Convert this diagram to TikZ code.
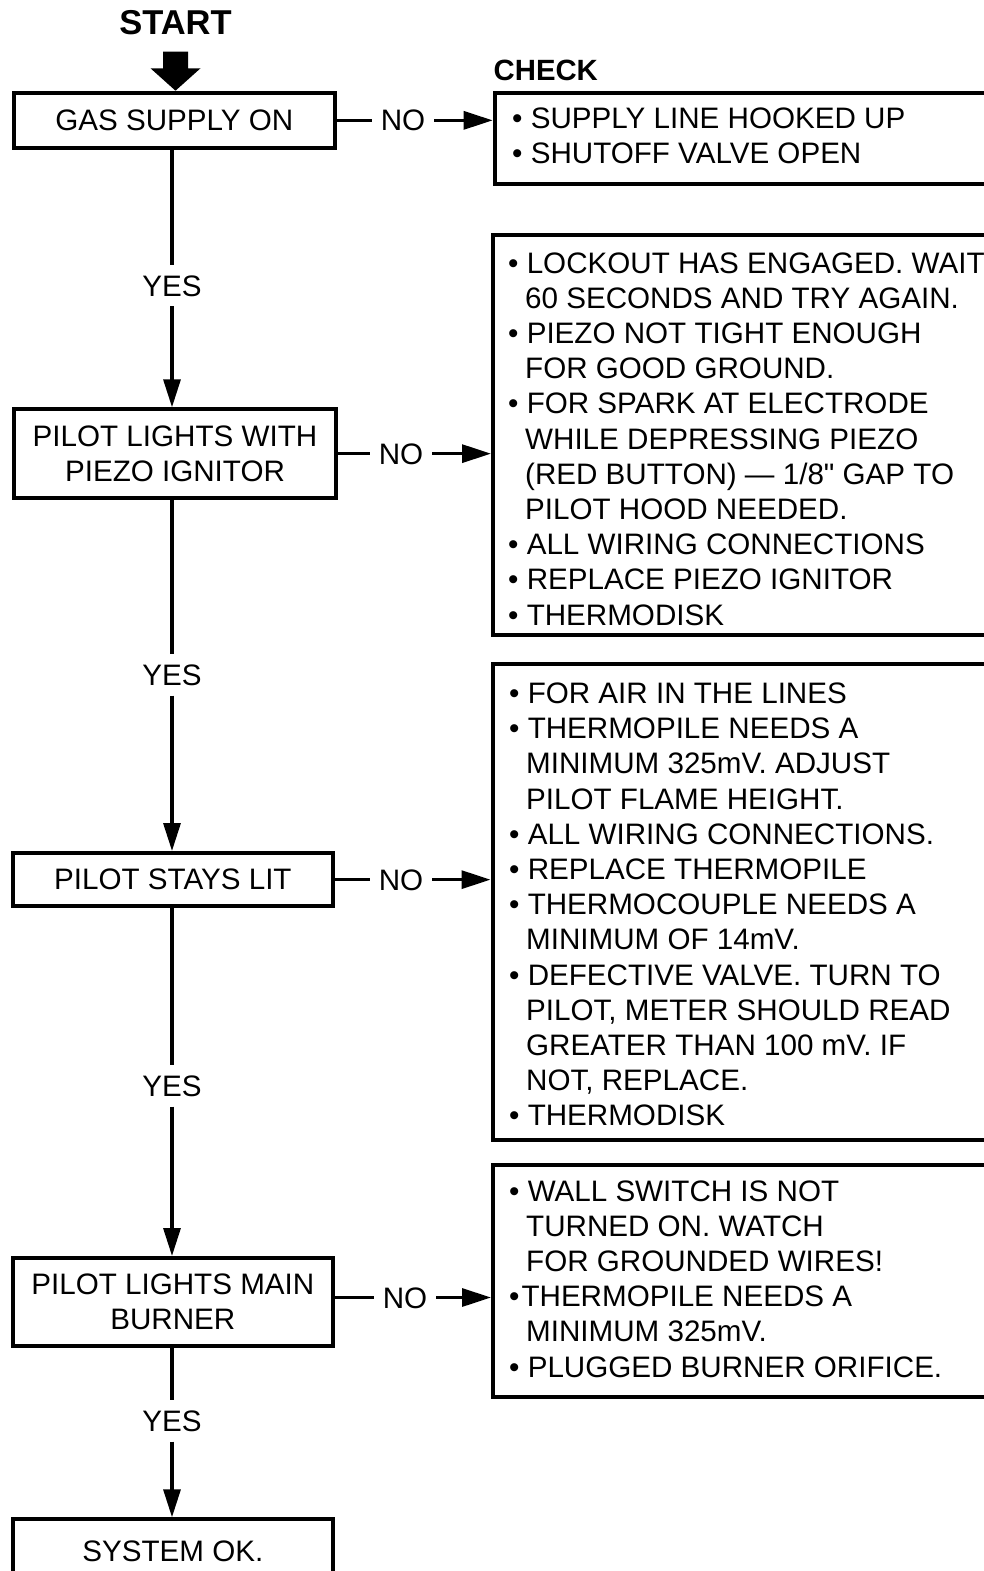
\documentclass[tikz,border=0pt]{standalone}
\usepackage{fontspec}
\setmainfont{Liberation Sans}
\newfontfamily\plainfont{Liberation Sans}
\usetikzlibrary{arrows.meta,calc}
\newcommand\bodyfont{\fontsize{29.6}{35.2}\selectfont}
\newcommand\ci{\hspace*{17pt}}
\newcommand\qmark{{\plainfont\char34}}
\begin{document}
\begin{tikzpicture}[x=1pt,y=-1pt,
  box/.style={draw, line width=4pt, rectangle, inner sep=0pt, align=center, font=\bodyfont},
  chkbox/.style={draw, line width=4pt, rectangle, inner sep=0pt},
  chktext/.style={inner sep=0pt, anchor=base west, font=\bodyfont},
  lbl/.style={inner xsep=9pt, inner ysep=0pt, text height=21pt, text depth=0pt, font=\bodyfont},
  yes/.style={inner xsep=0pt, inner ysep=10pt, text height=21pt, text depth=0pt, font=\bodyfont},
  conn/.style={line width=3.2pt},
  arr/.style={line width=3.2pt, -{Triangle[length=28pt, width=17pt]}},
  harr/.style={line width=3.2pt, -{Triangle[length=29pt, width=18pt]}}
]
\useasboundingbox (0,0) rectangle (984,1571);
\begin{scope}
\clip (0,0) rectangle (984,1571);

% title
\node[inner sep=0pt, anchor=base, font=\bfseries\fontsize{34.5}{40}\selectfont] (start) at (175.5,35) {START};
\node[inner sep=0pt, anchor=base west, font=\bfseries\fontsize{29.3}{35}\selectfont] (check) at (493.5,81) {CHECK};

% left boxes
\node[box, minimum width=321.3pt, minimum height=55.3pt] (b1) at (174.35,120.35) {GAS SUPPLY ON};
\node[box, minimum width=322.6pt, minimum height=88.7pt] (b2) at (175,453.65) {PILOT LIGHTS WITH\\PIEZO IGNITOR};
\node[box, minimum width=320.3pt, minimum height=53.3pt] (b3) at (172.85,879.65) {PILOT STAYS LIT};
\node[box, minimum width=320.3pt, minimum height=87.7pt] (b4) at (172.85,1301.85) {PILOT LIGHTS MAIN\\BURNER};
\node[box, minimum width=320.3pt, anchor=north, text height=21pt, text depth=40pt, inner ysep=21.4pt] (b5) at (172.85,1517.3) {SYSTEM OK.};

% start arrow
\coordinate (st) at (175.5,90.7);
\fill (st) -- (150.5,68.3) -- (163,68.3) -- (163,51.7) -- (188,51.7) -- (188,68.3) -- (200.5,68.3) -- cycle;

% check boxes
\node[chkbox, minimum width=515.3pt, minimum height=91pt] (c1) at (752.35,138.5) {};
\node[chkbox, minimum width=517pt, minimum height=400pt] (c2) at (751.5,434.7) {};
\node[chkbox, minimum width=517.5pt, minimum height=475.7pt] (c3) at (751.25,901.65) {};
\node[chkbox, minimum width=517pt, minimum height=232pt] (c4) at (751.5,1281) {};

\node[chktext] (t1) at (512,128.5) {\parbox[t]{470pt}{\bodyfont
• SUPPLY LINE HOOKED UP\\
• SHUTOFF VALVE OPEN}};

\node[chktext] (t2) at (508,273) {\parbox[t]{480pt}{\bodyfont
• LOCKOUT HAS ENGAGED. WAIT\\
\ci 60 SECONDS AND TRY AGAIN.\\
• PIEZO NOT TIGHT ENOUGH\\
\ci FOR GOOD GROUND.\\
• FOR SPARK AT ELECTRODE\\
\ci WHILE DEPRESSING PIEZO\\
\ci (RED BUTTON) — 1/8\qmark{} GAP TO\\
\ci PILOT HOOD NEEDED.\\
• ALL WIRING CONNECTIONS\\
• REPLACE PIEZO IGNITOR\\
• THERMODISK}};

\node[chktext] (t3) at (509,703.4) {\parbox[t]{480pt}{\bodyfont
• FOR AIR IN THE LINES\\
• THERMOPILE NEEDS A\\
\ci MINIMUM 325mV. ADJUST\\
\ci PILOT FLAME HEIGHT.\\
• ALL WIRING CONNECTIONS.\\
• REPLACE THERMOPILE\\
• THERMOCOUPLE NEEDS A\\
\ci MINIMUM OF 14mV.\\
• DEFECTIVE VALVE. TURN TO\\
\ci PILOT, METER SHOULD READ\\
\ci GREATER THAN 100 mV. IF\\
\ci NOT, REPLACE.\\
• THERMODISK}};

\node[chktext] (t4) at (509,1201) {\parbox[t]{480pt}{\bodyfont
• WALL SWITCH IS NOT\\
\ci TURNED ON. WATCH\\
\ci FOR GROUNDED WIRES!\\
•\hspace{2pt}THERMOPILE NEEDS A\\
\ci MINIMUM 325mV.\\
• PLUGGED BURNER ORIFICE.}};

% NO labels and connectors
\node[lbl] (n1) at (403,120.35) {NO};
\node[lbl] (n2) at (401,453.65) {NO};
\node[lbl] (n3) at (401,879.65) {NO};
\node[lbl] (n4) at (405,1297.5) {NO};
\draw[conn] (b1.east) -- (n1.west);
\draw[harr] (n1.east) -- (n1.east -| c1.west);
\draw[conn] (b2.east) -- (n2.west);
\draw[harr] (n2.east) -- (n2.east -| c2.west);
\draw[conn] (b3.east) -- (n3.west);
\draw[harr] (n3.east) -- (n3.east -| c3.west);
\draw[conn] (b4.east |- n4) -- (n4.west);
\draw[harr] (n4.east) -- (n4.east -| c4.west);

% YES labels and connectors
\node[yes] (y1) at (172,285.5) {YES};
\node[yes] (y2) at (172,675) {YES};
\node[yes] (y3) at (172,1086) {YES};
\node[yes] (y4) at (172,1421) {YES};
\draw[conn] (y1 |- b1.south) -- (y1.north);
\draw[arr] (y1.south) -- (y1 |- b2.north);
\draw[conn] (y2 |- b2.south) -- (y2.north);
\draw[arr] (y2.south) -- (y2 |- b3.north);
\draw[conn] (y3 |- b3.south) -- (y3.north);
\draw[arr] (y3.south) -- (y3 |- b4.north);
\draw[conn] (y4 |- b4.south) -- (y4.north);
\draw[arr] (y4.south) -- (y4 |- b5.north);
\end{scope}
\end{tikzpicture}
\end{document}
